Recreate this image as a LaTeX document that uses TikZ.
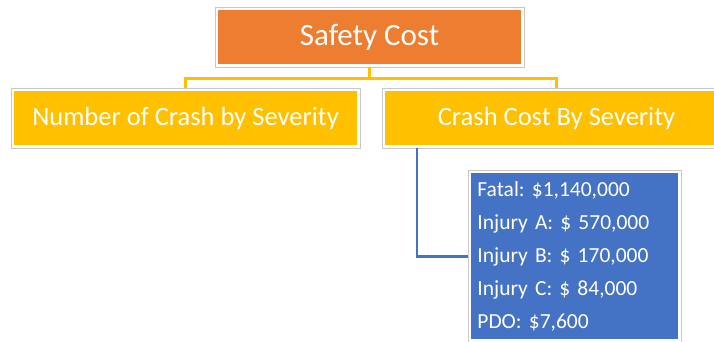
\documentclass[tikz,border=0pt]{standalone}
\usepackage{fontspec}
\setmainfont{Carlito}
\usepackage{tikz}
\frenchspacing
\definecolor{costorange}{RGB}{237, 125, 49}
\definecolor{costyellow}{RGB}{255, 192, 0}
\definecolor{costblue}{RGB}{68, 114, 196}
\definecolor{edgegray}{RGB}{200, 200, 200}

\begin{document}
\begin{tikzpicture}[
          x=1pt, y=-1pt,
          basebox/.style={rectangle, draw=edgegray, line width=0.8pt, fill=white, inner sep=0pt, minimum height=60pt, text=white,
            path picture={\fill[#1] ([shift={(3pt,3pt)}]path picture bounding box.south west) rectangle ([shift={(-3pt,-3pt)}]path picture bounding box.north east);}},
          trunk/.style={costyellow, line width=2.2pt},
          branch/.style={costblue, line width=2.2pt}
        ]
          \useasboundingbox (0,0) rectangle (714,341);

          \node[basebox=costorange, minimum width=309pt, font=\fontsize{31}{37}\selectfont] (safety) at (369.5,37) {Safety Cost};
          \node[basebox=costyellow, minimum width=349pt, font=\fontsize{26.5}{32}\selectfont] (count) at (185.5,118) {Number of Crash by Severity};
          \node[basebox=costyellow, minimum width=349pt, font=\fontsize{26.5}{32}\selectfont] (cost) at (556.5,118) {Crash Cost By Severity};
          \node[basebox=costblue, anchor=north west, minimum width=213pt, minimum height=172pt, inner xsep=9pt, text width=195pt, align=left,
            font=\fontsize{21.5}{33}\selectfont] (detail) at (468,170)
            {Fatal: \$1,140,000\\Injury A: \$ 570,000\\Injury B: \$ 170,000\\Injury C: \$ 84,000\\PDO: \$7,600};

          \draw[trunk] (safety.south) -- ++(0,11) coordinate (split);
          \draw[trunk] (split) -| (count.north);
          \draw[trunk] (split) -| (cost.north);
          \draw[branch] ([xshift=35pt]cost.south west) |- (detail.west);
        \end{tikzpicture}
\end{document}
